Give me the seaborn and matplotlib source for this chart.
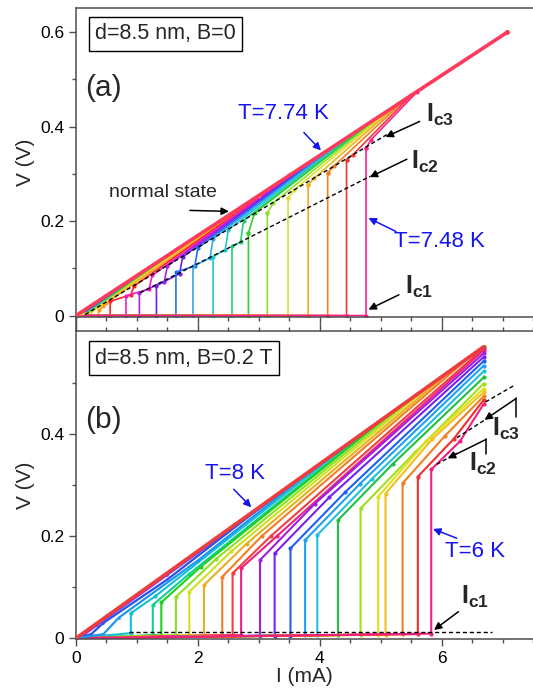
import matplotlib
matplotlib.use('Agg')
import matplotlib.pyplot as plt
import seaborn as sns
from matplotlib.lines import Line2D
from matplotlib.ticker import MultipleLocator, FixedLocator, FuncFormatter

# ================= Panel (a): d=8.5 nm, B=0 =================
a_normal_I = [0.0, 7.08]
a_normal_V = [0.0, 0.600]

# high-temperature curves (no jump)
a_hi_colors = ['#3c3cf0', '#28c860', '#e6d21e']
a_hi_I = [[0, 0.15, 1.0, 2.2, 7.08], [0, 0.20, 1.0, 2.6, 7.08], [0, 0.25, 1.0, 3.0, 7.08]]
a_hi_V = [[0, 0.008, 0.082, 0.186, 0.600], [0, 0.008, 0.079, 0.220, 0.600], [0, 0.007, 0.076, 0.254, 0.600]]

# curves with a jump at Ic1, a second jump at Ic2, then into the normal state
a_Ic1 = [0.37, 0.56, 0.82, 1.04, 1.32, 1.64, 1.92, 2.25, 2.56, 2.83, 3.14, 3.48, 3.81, 4.13, 4.44, 4.76]
a_Vjump = [0.012, 0.030, 0.042, 0.048, 0.063, 0.092, 0.104, 0.125, 0.147, 0.175, 0.217, 0.249, 0.277, 0.302, 0.330, 0.354]
a_Ic2 = [0.45, 0.90, 1.20, 1.45, 1.70, 1.95, 2.20, 2.45, 2.70, 2.83, 3.14, 3.48, 3.81, 4.13, 4.44, 4.76]
a_Vic2 = [0.020, 0.044, 0.056, 0.072, 0.089, 0.105, 0.122, 0.139, 0.155, 0.175, 0.217, 0.249, 0.277, 0.302, 0.330, 0.354]
a_Iknee = [0.50, 0.95, 1.25, 1.50, 1.75, 2.00, 2.25, 2.50, 2.75, 2.93, 3.24, 3.58, 3.91, 4.23, 4.54, 4.84]
a_Vknee = [0.027, 0.062, 0.085, 0.105, 0.124, 0.143, 0.163, 0.182, 0.201, 0.217, 0.239, 0.266, 0.291, 0.316, 0.340, 0.372]
a_Imerge = [3.3, 3.5, 3.7, 3.9, 4.1, 4.3, 4.5, 4.7, 4.85, 5.0, 5.1, 5.2, 5.3, 5.4, 5.5, 5.6]
a_Vmerge = [0.280, 0.297, 0.313, 0.330, 0.347, 0.364, 0.381, 0.398, 0.411, 0.424, 0.432, 0.440, 0.449, 0.457, 0.466, 0.474]
a_colors = ['#ff9a1a', '#ff2020', '#f020c0', '#b020e0', '#7020f0', '#2070f0', '#30a8f0', '#20c8d0',
            '#20d080', '#30d030', '#90e030', '#e0e030', '#f0b020', '#f08020', '#f03838', '#ff2090']
a_end_I = 7.08
a_end_V = 0.600

# dashed guide lines (a)
a_ic3_I = [0.15, 5.10]
a_ic3_V = [0.002, 0.383]
a_ic2_I = [1.05, 4.83]
a_ic2_V = [0.048, 0.295]

# ================= Panel (b): d=8.5 nm, B=0.2 T =================
b_normal_I = [0.0, 6.69]
b_normal_V = [0.0, 0.570]

b_hi_colors = ['#7a3cf0', '#2a50f0', '#1e96f0']
b_hi_I = [[0, 0.12, 0.35, 1.5, 6.69], [0, 0.25, 0.45, 1.5, 3.3, 6.69], [0, 0.45, 0.7, 2.0, 4.0, 6.69]]
b_hi_V = [[0, 0.006, 0.026, 0.124, 0.570], [0, 0.008, 0.030, 0.115, 0.281, 0.570], [0, 0.008, 0.040, 0.152, 0.341, 0.570]]

b_Ic1 = [0.90, 1.26, 1.40, 1.64, 1.86, 2.10, 2.40, 2.57, 2.71,
         3.02, 3.26, 3.52, 3.76, 3.96, 4.30, 4.67, 4.96, 5.08, 5.36, 5.61, 5.83]
b_Vpre = [0.010, 0.006, 0.006, 0.006, 0.006, 0.006, 0.006, 0.006, 0.006,
          0.005, 0.005, 0.005, 0.006, 0.006, 0.006, 0.007, 0.007, 0.007, 0.008, 0.008, 0.009]
b_Vjump = [0.049, 0.065, 0.070, 0.081, 0.091, 0.104, 0.120, 0.127, 0.137,
           0.153, 0.166, 0.176, 0.192, 0.202, 0.231, 0.254, 0.277, 0.283, 0.303, 0.316, 0.330]
b_Iknee = [1.30, 1.85, 2.05, 2.30, 2.55, 2.80, 3.05, 3.20, 3.30,
           3.92, 4.16, 4.42, 4.66, 4.86, 5.20, 5.57, 5.75, 5.85, 6.05, 6.20, 6.30]
b_Vknee = [0.082, 0.125, 0.140, 0.155, 0.170, 0.185, 0.200, 0.200, 0.200,
           0.263, 0.276, 0.286, 0.302, 0.312, 0.341, 0.364, 0.385, 0.390, 0.395, 0.390, 0.385]
b_Iend = [4.60, 5.00, 5.30, 5.60, 5.90, 6.20, 6.50, 6.69, 6.69,
          6.69, 6.69, 6.69, 6.69, 6.69, 6.69, 6.69, 6.69, 6.69, 6.69, 6.69, 6.69]
b_Vend = [0.392, 0.426, 0.452, 0.477, 0.503, 0.528, 0.554, 0.567, 0.563,
          0.557, 0.550, 0.542, 0.533, 0.522, 0.510, 0.498, 0.488, 0.481, 0.473, 0.466, 0.458]
b_colors = ['#10c0d8', '#10d090', '#20d020', '#90e020', '#d0e020', '#e8b020', '#f08020', '#f04040', '#f02080',
            '#a020e0', '#7a20f0', '#2060f0', '#20a0f0', '#20c0e0', '#20c040', '#a0e020', '#e0e020',
            '#f0c020', '#f08020', '#f03030', '#f02080']
b_end_I = 6.69
b_end_V = 0.570

b_ic1_I = [0.87, 6.83]
b_ic1_V = [0.013, 0.013]
b_top_I = [6.72, 7.20]
b_top_V = [0.462, 0.495]
b_ic3_I = [6.25, 6.75]
b_ic3_V = [0.392, 0.430]
b_ic2_I = [5.92, 6.25]
b_ic2_V = [0.340, 0.362]

# ================= Figure =================
sns.set_style('ticks')
plt.rcParams['font.family'] = ['Liberation Sans', 'DejaVu Sans']
plt.rcParams['mathtext.fontset'] = 'custom'
plt.rcParams['mathtext.rm'] = 'Liberation Sans'
plt.rcParams['mathtext.bf'] = 'Liberation Sans:bold'

W, H = 533, 692
fig = plt.figure(figsize=(W / 100, H / 100), dpi=100)
L = 76 / W
axa = fig.add_axes([L, 1 - 316.5 / H, 1 - L, (316.5 - 8.3) / H])
axb = fig.add_axes([L, 1 - 639 / H, 1 - L, (639 - 331) / H])

spc = '#4d4d4d'
blue = '#1414f0'


def curve(ax, I, V, color, lw, ms, z=2):
    sns.lineplot(x=I, y=V, ax=ax, color=color, lw=lw, sort=False, estimator=None,
                 marker='o', markersize=ms, markeredgewidth=0, legend=False, zorder=z)


# ---- panel (a) curves
for k in range(len(a_Ic1)):
    I = [0, a_Ic1[k], a_Ic1[k], a_Ic2[k], a_Iknee[k], a_Imerge[k], a_end_I]
    V = [0, 0, a_Vjump[k], a_Vic2[k], a_Vknee[k], a_Vmerge[k], a_end_V]
    curve(axa, I, V, a_colors[k], 1.2, 3)
for k in range(len(a_hi_I)):
    curve(axa, a_hi_I[k], a_hi_V[k], a_hi_colors[k], 1.3, 2)
curve(axa, a_normal_I, a_normal_V, '#ff3a5c', 2.6, 0, z=3)
axa.plot(a_ic3_I, a_ic3_V, color='black', lw=1.0, ls=(0, (3, 2)), zorder=5)
axa.plot(a_ic2_I, a_ic2_V, color='black', lw=1.0, ls=(0, (3, 2)), zorder=5)

# ---- panel (b) curves
for k in range(len(b_Ic1)):
    I = [0, b_Ic1[k], b_Ic1[k], b_Iknee[k], b_Iend[k]]
    V = [0, b_Vpre[k], b_Vjump[k], b_Vknee[k], b_Vend[k]]
    if b_Iend[k] < b_end_I:
        I = I + [b_end_I]
        V = V + [b_end_V]
    curve(axb, I, V, b_colors[k], 1.5, 3)
for k in range(len(b_hi_I)):
    curve(axb, b_hi_I[k], b_hi_V[k], b_hi_colors[k], 1.6, 2)
curve(axb, b_normal_I, b_normal_V, '#f03c3c', 2.6, 0, z=3)
for xs, ys in [(b_ic1_I, b_ic1_V), (b_top_I, b_top_V), (b_ic3_I, b_ic3_V), (b_ic2_I, b_ic2_V)]:
    axb.plot(xs, ys, color='black', lw=1.0, ls=(0, (3, 2)), zorder=5)

# ---- axes styling
fmt = FuncFormatter(lambda v, p: '0' if abs(v) < 1e-9 else f'{v:.1f}')
for ax, ylim, yt, ym in [(axa, (-0.002, 0.6505), [0, 0.2, 0.4, 0.6], [0.1, 0.3, 0.5]),
                         (axb, (-0.0015, 0.6008), [0, 0.2, 0.4], [0.1, 0.3, 0.5])]:
    ax.set_xlim(0, 7.5)
    ax.set_ylim(*ylim)
    ax.xaxis.set_major_locator(MultipleLocator(2))
    ax.xaxis.set_minor_locator(MultipleLocator(0.5))
    ax.yaxis.set_major_locator(FixedLocator(yt))
    ax.yaxis.set_minor_locator(FixedLocator(ym))
    ax.yaxis.set_major_formatter(fmt)
    ax.spines['right'].set_visible(False)
    for s in ['left', 'top', 'bottom']:
        ax.spines[s].set_color(spc)
        ax.spines[s].set_linewidth(1.1)
    ax.tick_params(which='both', direction='out', color=spc, width=1.0, labelsize=12.5, labelcolor='black')
    ax.tick_params(which='major', length=5)
    ax.tick_params(which='minor', length=3)
    ax.set_ylabel('V (V)', fontsize=15, labelpad=4)
    ax.set_xlabel('')

axa.tick_params(axis='x', labelbottom=False)
axb.tick_params(axis='x', which='both', top=True)
axb.set_xlabel('I (mA)', fontsize=15, labelpad=1)

fig.add_artist(Line2D([L, L], [1 - 316.5 / H, 1 - 331 / H], transform=fig.transFigure, color=spc, lw=1.1))

# ---- labels (a)
axa.text(0.0415, 0.952, 'd=8.5 nm, B=0', transform=axa.transAxes, fontsize=15.5, ha='left', va='top',
         bbox=dict(boxstyle='square,pad=0.3', fc='white', ec='black', lw=1.0))
axa.text(0.02, 0.74, '(a)', transform=axa.transAxes, fontsize=21.5, ha='left', va='center')
axa.text(1.42, 0.261, 'normal state', fontsize=14, ha='center', va='center')
arrow_k = dict(arrowstyle='-|>', color='black', lw=1.1, mutation_scale=11, shrinkA=0, shrinkB=0)
arrow_b = dict(arrowstyle='-|>', color=blue, lw=1.1, mutation_scale=11, shrinkA=0, shrinkB=0)
axa.annotate('', xy=(2.51, 0.2205), xytext=(1.87, 0.2226), arrowprops=arrow_k)
axa.text(3.40, 0.428, 'T=7.74 K', color=blue, fontsize=16, ha='center', va='center')
axa.annotate('', xy=(4.02, 0.3495), xytext=(3.74, 0.3875), arrowprops=arrow_b)
axa.text(5.96, 0.157, 'T=7.48 K', color=blue, fontsize=16, ha='center', va='center')
axa.annotate('', xy=(4.80, 0.2065), xytext=(5.25, 0.178), arrowprops=arrow_b)
axa.text(5.74, 0.425, r'$\mathbf{I_{c3}}$', fontsize=18, ha='left', va='center')
axa.annotate('', xy=(5.08, 0.378), xytext=(5.64, 0.411), arrowprops=arrow_k)
axa.text(5.50, 0.326, r'$\mathbf{I_{c2}}$', fontsize=18, ha='left', va='center')
axa.annotate('', xy=(4.82, 0.293), xytext=(5.43, 0.331), arrowprops=arrow_k)
axa.text(5.40, 0.060, r'$\mathbf{I_{c1}}$', fontsize=18, ha='left', va='center')
axa.annotate('', xy=(4.80, 0.0127), xytext=(5.30, 0.044), arrowprops=arrow_k)

# ---- labels (b)
axb.text(0.0415, 0.946, 'd=8.5 nm, B=0.2 T', transform=axb.transAxes, fontsize=15.5, ha='left', va='top',
         bbox=dict(boxstyle='square,pad=0.3', fc='white', ec='black', lw=1.0))
axb.text(0.02, 0.711, '(b)', transform=axb.transAxes, fontsize=21.5, ha='left', va='center')
axb.text(2.61, 0.3226, 'T=8 K', color=blue, fontsize=16, ha='center', va='center')
axb.annotate('', xy=(2.877, 0.2561), xytext=(2.589, 0.2913), arrowprops=arrow_b)
axb.text(6.556, 0.1693, 'T=6 K', color=blue, fontsize=16, ha='center', va='center')
axb.annotate('', xy=(5.859, 0.2137), xytext=(6.249, 0.1955), arrowprops=arrow_b)
axb.text(6.32, 0.080, r'$\mathbf{I_{c1}}$', fontsize=18, ha='left', va='center')
axb.annotate('', xy=(5.875, 0.0162), xytext=(6.277, 0.052), arrowprops=arrow_k)
axb.text(6.83, 0.409, r'$\mathbf{I_{c3}}$', fontsize=18, ha='left', va='center')
axb.plot([7.225, 7.225], [0.469, 0.4335], color='black', lw=1.1)
axb.annotate('', xy=(6.705, 0.427), xytext=(7.225, 0.469), arrowprops=arrow_k)
axb.text(6.45, 0.341, r'$\mathbf{I_{c2}}$', fontsize=18, ha='left', va='center')
axb.plot([6.733, 6.733], [0.389, 0.361], color='black', lw=1.1)
axb.annotate('', xy=(6.10, 0.3517), xytext=(6.733, 0.389), arrowprops=arrow_k)

fig.savefig('out.png', dpi=100)
